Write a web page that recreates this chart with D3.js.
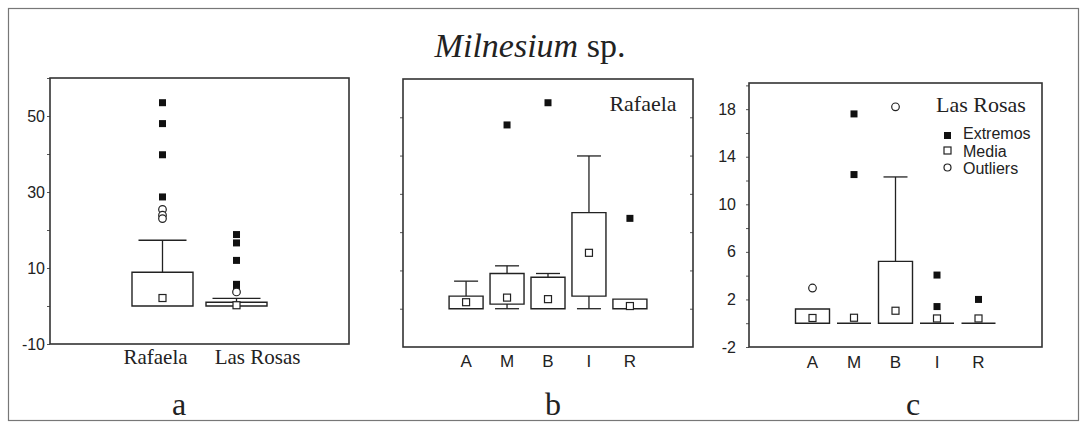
<!DOCTYPE html>
<html>
<head>
<meta charset="utf-8">
<script src="https://cdn.jsdelivr.net/npm/d3@7"></script>
<style>
  body { margin: 0; background: #fff; }
  svg { display: block; }
</style>
</head>
<body>
<svg id="chart" width="1081" height="425"></svg>
<script>
// ---- Panel a: densities by site ----
const sites = ["Rafaela", "Las Rosas"];
const siteQ1 = [0, 0];
const siteQ3 = [8.9, 1.0];
const siteLow = [0, 0];
const siteHigh = [17.3, 2.0];
const siteMean = [2.1, 0.2];
const siteExtremes = [[53.5, 48, 39.8, 28.7], [18.8, 16.6, 12.0, 5.7, 4.8]];
const siteOutliers = [[25.4, 23.9, 23.0], [3.7]];
const siteTickLabels = [-10, 10, 30, 50];
const siteTickMarks = [-10, 0, 10, 20, 30, 40, 50, 60];

// ---- Strata shared by panels b and c ----
const strata = ["A", "M", "B", "I", "R"];

// ---- Panel b: Rafaela by stratum ----
const rafQ1 = [0, 1.2, 0, 3.3, 0];
const rafQ3 = [3.3, 9.2, 8.2, 25.1, 2.5];
const rafLow = [0, 0, 0, 0, 0];
const rafHigh = [7.2, 11.2, 9.2, 39.9, 2.5];
const rafMean = [1.7, 2.9, 2.5, 14.6, 0.7];
const rafExtremes = [[], [48], [53.8], [], [23.6]];
const rafOutliers = [[], [], [], [], []];
const rafTickMarks = [0, 10, 20, 30, 40, 50];

// ---- Panel c: Las Rosas by stratum ----
const rosQ1 = [0, 0, 0, 0, 0];
const rosQ3 = [1.2, 0, 5.2, 0, 0];
const rosLow = [0, 0, 0, 0, 0];
const rosHigh = [1.2, 0, 12.3, 0, 0];
const rosMean = [0.44, 0.46, 1.05, 0.4, 0.4];
const rosExtremes = [[], [17.6, 12.5], [], [4.05, 1.4], [2.0]];
const rosOutliers = [[2.96], [], [18.2], [], []];
const rosTickLabels = [-2, 2, 6, 10, 14, 18];
const rosTickMarks = [-2, 0, 2, 4, 6, 8, 10, 12, 14, 16, 18, 20];

const legendLabels = ["Extremos", "Media", "Outliers"];

const SANS = "'Liberation Sans', Arial, sans-serif";
const SERIF = "'Liberation Serif', 'Times New Roman', serif";
const INK = "#222";

const svg = d3.select("#chart");

// outer frame
svg.append("rect")
  .attr("x", 8.5).attr("y", 8.5)
  .attr("width", 1070).attr("height", 412)
  .attr("fill", "none").attr("stroke", "#777").attr("stroke-width", 1.2);

// title
const title = svg.append("text")
  .attr("x", 530).attr("y", 57)
  .attr("text-anchor", "middle")
  .attr("font-family", SERIF).attr("font-size", 34).attr("fill", INK);
title.append("tspan").attr("font-style", "italic").text("Milnesium");
title.append("tspan").text(" sp.");

function drawPanel(p) {
  const x = d3.scalePoint().domain(p.cats).range([p.left, p.right]).padding(p.pad);
  const y = d3.scaleLinear().domain(p.domain).range([p.bottom, p.top]);
  const g = svg.append("g");

  // tick marks on the left axis (and right, if requested)
  const marks = g.append("g")
    .attr("transform", `translate(${p.left},0)`)
    .call(d3.axisLeft(y).tickValues(p.tickMarks).tickSize(3).tickFormat(""));
  marks.select(".domain").remove();
  marks.selectAll("line").attr("stroke", "#555");
  if (p.rightTicks) {
    const rm = g.append("g")
      .attr("transform", `translate(${p.right},0)`)
      .call(d3.axisLeft(y).tickValues(p.tickMarks).tickSize(3).tickFormat(""));
    rm.select(".domain").remove();
    rm.selectAll("line").attr("stroke", "#555");
  }

  // tick labels (plain hyphen for negatives)
  if (p.tickLabels) {
    const lab = g.append("g")
      .attr("transform", `translate(${p.left},0)`)
      .call(d3.axisLeft(y).tickValues(p.tickLabels).tickSize(0)
        .tickPadding(p.labelGap).tickFormat(d => String(d)));
    lab.select(".domain").remove();
    lab.selectAll("text")
      .attr("font-family", SANS).attr("font-size", 16).attr("fill", INK);
  }

  // plot frame
  g.append("rect")
    .attr("x", p.left).attr("y", p.top)
    .attr("width", p.right - p.left).attr("height", p.bottom - p.top)
    .attr("fill", "none").attr("stroke", "#333").attr("stroke-width", 1.6);

  const bw = p.boxWidth, cw = p.capWidth;

  p.cats.forEach((c, i) => {
    const cx = x(c);
    const yq1 = y(p.q1[i]), yq3 = y(p.q3[i]);

    // upper whisker
    if (p.high[i] > p.q3[i]) {
      g.append("line").attr("x1", cx).attr("x2", cx)
        .attr("y1", yq3).attr("y2", y(p.high[i]))
        .attr("stroke", INK).attr("stroke-width", 1.3);
      g.append("line").attr("x1", cx - cw / 2).attr("x2", cx + cw / 2)
        .attr("y1", y(p.high[i])).attr("y2", y(p.high[i]))
        .attr("stroke", INK).attr("stroke-width", 1.3);
    }
    // lower whisker
    if (p.low[i] < p.q1[i]) {
      g.append("line").attr("x1", cx).attr("x2", cx)
        .attr("y1", yq1).attr("y2", y(p.low[i]))
        .attr("stroke", INK).attr("stroke-width", 1.3);
      g.append("line").attr("x1", cx - cw / 2).attr("x2", cx + cw / 2)
        .attr("y1", y(p.low[i])).attr("y2", y(p.low[i]))
        .attr("stroke", INK).attr("stroke-width", 1.3);
    }

    // box (a path so that a collapsed box still draws as a line)
    g.append("path")
      .attr("d", `M${cx - bw / 2},${yq3}H${cx + bw / 2}V${yq1}H${cx - bw / 2}Z`)
      .attr("fill", "#fff").attr("stroke", INK).attr("stroke-width", 1.4);

    // extremes
    p.extremes[i].forEach(v => {
      g.append("rect")
        .attr("x", cx - 3.5).attr("y", y(v) - 3.5)
        .attr("width", 7).attr("height", 7)
        .attr("fill", "#111");
    });
    // outliers
    p.outliers[i].forEach(v => {
      g.append("circle")
        .attr("cx", cx).attr("cy", y(v)).attr("r", 3.8)
        .attr("fill", "#fff").attr("stroke", INK).attr("stroke-width", 1.2);
    });
    // mean
    g.append("rect")
      .attr("x", cx - 3.5).attr("y", y(p.mean[i]) - 3.5)
      .attr("width", 7).attr("height", 7)
      .attr("fill", "#fff").attr("stroke", INK).attr("stroke-width", 1.2);

    // category label
    g.append("text")
      .attr("x", cx + (p.catDx ? p.catDx[i] : 0)).attr("y", p.catBaseline)
      .attr("text-anchor", "middle")
      .attr("font-family", p.catFont).attr("font-size", p.catSize)
      .attr("fill", INK)
      .text(c);
  });

  // panel letter
  g.append("text")
    .attr("x", p.letterX).attr("y", 415)
    .attr("text-anchor", "middle")
    .attr("font-family", SERIF).attr("font-size", 32).attr("fill", INK)
    .text(p.letter);

  // site name inside the plot
  if (p.site) {
    g.append("text")
      .attr("x", p.siteX).attr("y", p.siteY)
      .attr("text-anchor", "middle")
      .attr("font-family", SERIF).attr("font-size", 22).attr("fill", INK)
      .text(p.site);
  }
  return { x, y, g };
}

drawPanel({
  cats: sites, q1: siteQ1, q3: siteQ3, low: siteLow, high: siteHigh, mean: siteMean,
  extremes: siteExtremes, outliers: siteOutliers,
  left: 50, right: 349, top: 78, bottom: 344, pad: 1.52, domain: [-10, 60],
  tickMarks: siteTickMarks, tickLabels: siteTickLabels, labelGap: 5,
  boxWidth: 61, capWidth: 48,
  catFont: SERIF, catSize: 21, catBaseline: 364, catDx: [-7, 21],
  letter: "a", letterX: 179
});

drawPanel({
  cats: strata, q1: rafQ1, q3: rafQ3, low: rafLow, high: rafHigh, mean: rafMean,
  extremes: rafExtremes, outliers: rafOutliers,
  left: 403, right: 693, top: 79, bottom: 347, pad: 1.54, domain: [-10, 60],
  tickMarks: rafTickMarks, rightTicks: true,
  boxWidth: 34, capWidth: 24,
  catFont: SANS, catSize: 17, catBaseline: 367,
  letter: "b", letterX: 553,
  site: "Rafaela", siteX: 643, siteY: 111
});

const pc = drawPanel({
  cats: strata, q1: rosQ1, q3: rosQ3, low: rosLow, high: rosHigh, mean: rosMean,
  extremes: rosExtremes, outliers: rosOutliers,
  left: 749, right: 1042, top: 83, bottom: 347, pad: 1.53, domain: [-2, 20.2],
  tickMarks: rosTickMarks, tickLabels: rosTickLabels, labelGap: 13,
  boxWidth: 34, capWidth: 24,
  catFont: SANS, catSize: 17, catBaseline: 368,
  letter: "c", letterX: 913,
  site: "Las Rosas", siteX: 981, siteY: 112
});

// legend for the marker symbols
const legend = pc.g.append("g");
const legendY = [133, 151, 168];
legendLabels.forEach((name, i) => {
  const ly = legendY[i];
  if (i === 0) {
    legend.append("rect").attr("x", 944).attr("y", ly - 1).attr("width", 7).attr("height", 7).attr("fill", "#111");
  } else if (i === 1) {
    legend.append("rect").attr("x", 944).attr("y", ly - 4).attr("width", 7).attr("height", 7)
      .attr("fill", "#fff").attr("stroke", INK).attr("stroke-width", 1.2);
  } else {
    legend.append("circle").attr("cx", 947.5).attr("cy", ly - 0.5).attr("r", 3.5)
      .attr("fill", "#fff").attr("stroke", INK).attr("stroke-width", 1.2);
  }
  legend.append("text")
    .attr("x", 963).attr("y", ly + 5.5)
    .attr("font-family", SANS).attr("font-size", 16).attr("fill", INK)
    .text(name);
});
</script>
</body>
</html>
